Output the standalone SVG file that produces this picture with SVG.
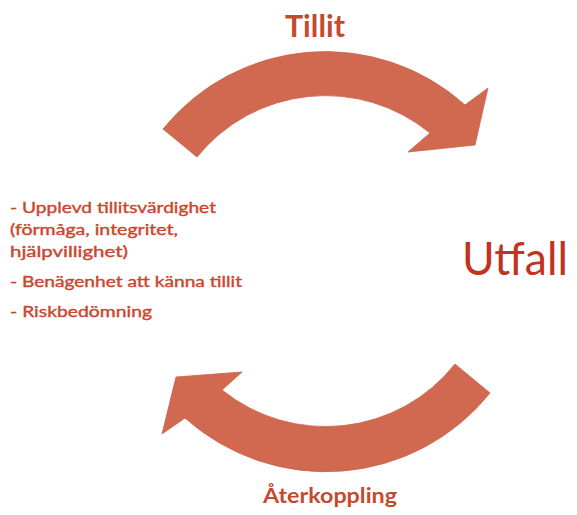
<svg xmlns="http://www.w3.org/2000/svg" width="577" height="515" viewBox="0 0 577 515">
<style>
  .arrow { fill: #D0694F; stroke: #CC6249; stroke-width: 0.8; stroke-linejoin: miter; }
  .lbl { font-family: Lato, "Open Sans", "Liberation Sans", sans-serif; }
  .bold { font-weight: bold; fill: #C44A2E; }
  .big { font-weight: normal; fill: #C2321F; }
  .list { font-size: 15.5px; fill: #C9472F; stroke: #C9472F; stroke-width: 0.4; font-weight: normal; }
</style>
<rect width="577" height="515" fill="#FFFFFF"/>
<g id="connectors">
  <path id="arrow-tillit" class="arrow" d="M163,129 A209,209 0 0 1 465,105 L488,88 L475,145 L408,152 L430,133 A165,165 0 0 0 197,157 Z"/>
  <path id="arrow-aterkoppling" class="arrow" d="M490,393 A211,211 0 0 1 185,418 L162,434 L176,377 L242,372 L222,390 A165,165 0 0 0 455,364 Z"/>
</g>
<g id="node-tillit">
  <text class="lbl bold" x="285" y="37" font-size="30" textLength="60" lengthAdjust="spacingAndGlyphs">Tillit</text>
</g>
<g id="node-utfall">
  <text class="lbl big" x="462" y="275" font-size="46" textLength="106" lengthAdjust="spacingAndGlyphs">Utfall</text>
</g>
<g id="node-faktorer">
  <text class="lbl list" x="10" y="213" textLength="206" lengthAdjust="spacingAndGlyphs">- Upplevd tillitsvärdighet</text>
  <text class="lbl list" x="10" y="235" textLength="168" lengthAdjust="spacingAndGlyphs">(förmåga, integritet,</text>
  <text class="lbl list" x="10" y="257" textLength="118" lengthAdjust="spacingAndGlyphs">hjälpvillighet)</text>
  <text class="lbl list" x="10" y="287" textLength="232" lengthAdjust="spacingAndGlyphs">- Benägenhet att känna tillit</text>
  <text class="lbl list" x="10" y="317" textLength="142" lengthAdjust="spacingAndGlyphs">- Riskbedömning</text>
</g>
<g id="node-aterkoppling">
  <text class="lbl bold" x="263" y="503" font-size="21" textLength="134" lengthAdjust="spacingAndGlyphs">Återkoppling</text>
</g>
</svg>
